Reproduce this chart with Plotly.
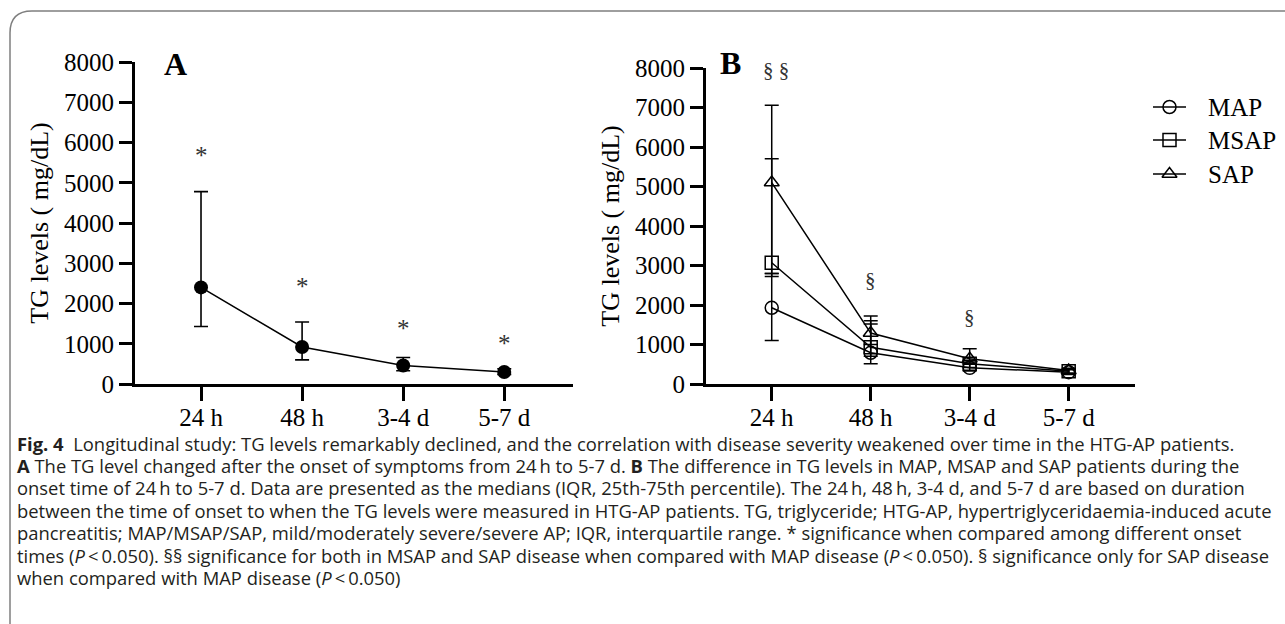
import plotly.graph_objects as go

# ---------------- data ----------------
times = ["24 h", "48 h", "3-4 d", "5-7 d"]

# Panel A: medians and IQR
a_median = [2400, 920, 460, 300]
a_q1 = [1430, 600, 330, 240]
a_q3 = [4780, 1540, 660, 380]
a_sig = ["*", "*", "*", "*"]
a_sig_y = [5800, 2550, 1500, 1130]

# Panel B: medians and IQR by severity
groups = ["MAP", "MSAP", "SAP"]
b_median = {
    "MAP": [1930, 790, 410, 300],
    "MSAP": [3070, 930, 510, 320],
    "SAP": [5100, 1290, 640, 340],
}
b_q1 = {
    "MAP": [1100, 510, 330, 240],
    "MSAP": [2720, 700, 420, 260],
    "SAP": [2800, 1000, 520, 280],
}
b_q3 = {
    "MAP": [2800, 1600, 500, 360],
    "MSAP": [5700, 1520, 600, 380],
    "SAP": [7060, 1720, 890, 400],
}
b_sig = ["§ §", "§", "§", ""]
b_sig_y = [7950, 2630, 1700, 0]

y_ticks = [0, 1000, 2000, 3000, 4000, 5000, 6000, 7000, 8000]

caption_lines = [
    "<b>Fig. 4</b>  Longitudinal study: TG levels remarkably declined, and the correlation with disease severity weakened over time in the HTG-AP patients.",
    "<b>A</b> The TG level changed after the onset of symptoms from 24\u2009h to 5-7 d. <b>B</b> The difference in TG levels in MAP, MSAP and SAP patients during the",
    "onset time of 24\u2009h to 5-7 d. Data are presented as the medians (IQR, 25th-75th percentile). The 24\u2009h, 48\u2009h, 3-4 d, and 5-7 d are based on duration",
    "between the time of onset to when the TG levels were measured in HTG-AP patients. TG, triglyceride; HTG-AP, hypertriglyceridaemia-induced acute",
    "pancreatitis; MAP/MSAP/SAP, mild/moderately severe/severe AP; IQR, interquartile range. * significance when compared among different onset",
    "times (<i>P</i>\u2009&lt;\u20090.050). §§ significance for both in MSAP and SAP disease when compared with MAP disease (<i>P</i>\u2009&lt;\u20090.050). § significance only for SAP disease",
    "when compared with MAP disease (<i>P</i>\u2009&lt;\u20090.050)",
]

# ---------------- styling / layout constants ----------------
W, H = 1285, 624
SERIF = "Liberation Serif, Times New Roman, serif"
SANS = "Open Sans, Noto Sans, sans-serif"
symbols = {"MAP": "circle-open", "MSAP": "square-open", "SAP": "triangle-up-open"}


def px_x(p):
    return p / W


def px_y(p):
    return 1 - p / H


fig = go.Figure()

# Panel A
fig.add_trace(go.Scatter(
    x=times, y=a_median, mode="lines+markers", xaxis="x", yaxis="y",
    line=dict(color="black", width=1.6),
    marker=dict(symbol="circle", size=14, color="black"),
    error_y=dict(type="data", symmetric=False,
                 array=[u - m for u, m in zip(a_q3, a_median)],
                 arrayminus=[m - l for m, l in zip(a_median, a_q1)],
                 color="black", thickness=1.6, width=7),
    showlegend=False, cliponaxis=False,
))

# Panel B
for g in groups:
    fig.add_trace(go.Scatter(
        x=times, y=b_median[g], mode="lines+markers", xaxis="x2", yaxis="y2",
        name=g,
        line=dict(color="black", width=1.5),
        marker=dict(symbol=symbols[g], size=13, color="black", line=dict(width=1.5, color="black")),
        error_y=dict(type="data", symmetric=False,
                     array=[u - m for u, m in zip(b_q3[g], b_median[g])],
                     arrayminus=[m - l for m, l in zip(b_median[g], b_q1[g])],
                     color="black", thickness=1.5, width=7),
        showlegend=False, cliponaxis=False,
    ))

# Custom legend (overlay pixel axis)
leg_x0, leg_x1, leg_text_x = 1153, 1186, 1206
leg_rows = [107, 140, 174]
for g, ry in zip(groups, leg_rows):
    fig.add_trace(go.Scatter(
        x=[leg_x0, leg_x1], y=[ry, ry], mode="lines", xaxis="x3", yaxis="y3",
        line=dict(color="black", width=1.5), showlegend=False, hoverinfo="skip",
    ))
    fig.add_trace(go.Scatter(
        x=[(leg_x0 + leg_x1) / 2], y=[ry], mode="markers", xaxis="x3", yaxis="y3",
        marker=dict(symbol=symbols[g], size=13, color="black", line=dict(width=1.5, color="black")),
        showlegend=False, hoverinfo="skip",
    ))

axis_common = dict(
    showline=True, linewidth=3, linecolor="black", mirror=False,
    ticks="outside", tickwidth=3, tickcolor="black",
    showgrid=False, zeroline=False, automargin=False,
    tickfont=dict(family=SERIF, size=25, color="black"),
)

annotations = []
# panel letters
annotations.append(dict(text="<b>A</b>", x=px_x(162), y=px_y(44), xref="paper", yref="paper",
                        showarrow=False, font=dict(family=SERIF, size=32, color="black")))
annotations.append(dict(text="<b>B</b>", x=px_x(730), y=px_y(43), xref="paper", yref="paper",
                        showarrow=False, font=dict(family=SERIF, size=32, color="black")))
# significance marks
for i, (s, yv) in enumerate(zip(a_sig, a_sig_y)):
    if s:
        annotations.append(dict(text=s, x=i, y=yv, xref="x", yref="y", showarrow=False,
                                yshift=-5, font=dict(family=SERIF, size=25, color="#333333")))
for i, (s, yv) in enumerate(zip(b_sig, b_sig_y)):
    if s:
        annotations.append(dict(text=s, x=i, y=yv, xref="x2", yref="y2", showarrow=False,
                                xshift=4 if i == 0 else 0,
                                font=dict(family=SERIF, size=21, color="#333333")))
# legend texts
for g, ry in zip(groups, leg_rows):
    annotations.append(dict(text=g, x=leg_text_x, y=ry, xref="x3", yref="y3", showarrow=False,
                            xanchor="left", yanchor="middle",
                            font=dict(family=SERIF, size=25, color="black")))
# caption
cap_y0, cap_dy = 443, 22.4
for k, line in enumerate(caption_lines):
    annotations.append(dict(text=line, x=px_x(15), y=px_y(cap_y0 + k * cap_dy), xref="paper", yref="paper",
                            xanchor="left", yanchor="middle", showarrow=False,
                            font=dict(family=SANS, size=18.4, color="#231f20")))

# frame (rounded top-left corner)
r = 22
fx, fy = 10, 11
frame_path = (f"M {px_x(fx)},0 L {px_x(fx)},{px_y(fy + r)} "
              f"Q {px_x(fx)},{px_y(fy)} {px_x(fx + r)},{px_y(fy)} L 1,{px_y(fy)}")

ytitle = dict(text="TG levels ( mg/dL)", standoff=8,
              font=dict(family=SERIF, size=26, color="black"))

fig.update_layout(
    width=W, height=H,
    margin=dict(l=0, r=0, t=0, b=0, pad=0),
    paper_bgcolor="white", plot_bgcolor="rgba(0,0,0,0)",
    xaxis=dict(domain=[px_x(135), px_x(573)], anchor="y", type="category",
               range=[-0.653, 3.68], ticklen=14, ticklabelstandoff=-5, **axis_common),
    yaxis=dict(domain=[px_y(384), px_y(62)], anchor="x", range=[0, 8000],
               tickvals=y_ticks, ticklen=13, title=ytitle, **axis_common),
    xaxis2=dict(domain=[px_x(706), px_x(1135)], anchor="y2", type="category",
                range=[-0.664, 3.67], ticklen=14, ticklabelstandoff=-5, **axis_common),
    yaxis2=dict(domain=[px_y(384), px_y(68)], anchor="x2", range=[0, 8000],
                tickvals=y_ticks, ticklen=13, title=ytitle, **axis_common),
    xaxis3=dict(domain=[0, 1], anchor="y3", range=[0, W], visible=False, fixedrange=True, automargin=False),
    yaxis3=dict(domain=[0, 1], anchor="x3", range=[H, 0], visible=False, fixedrange=True, automargin=False),
    annotations=annotations,
    shapes=[dict(type="path", path=frame_path, xref="paper", yref="paper",
                 line=dict(color="#7f7f7f", width=1.5))],
    showlegend=False,
)

fig.write_html("out.html", config={"displayModeBar": False},
               post_script="document.body.style.margin='0';document.body.style.overflow='hidden';")
